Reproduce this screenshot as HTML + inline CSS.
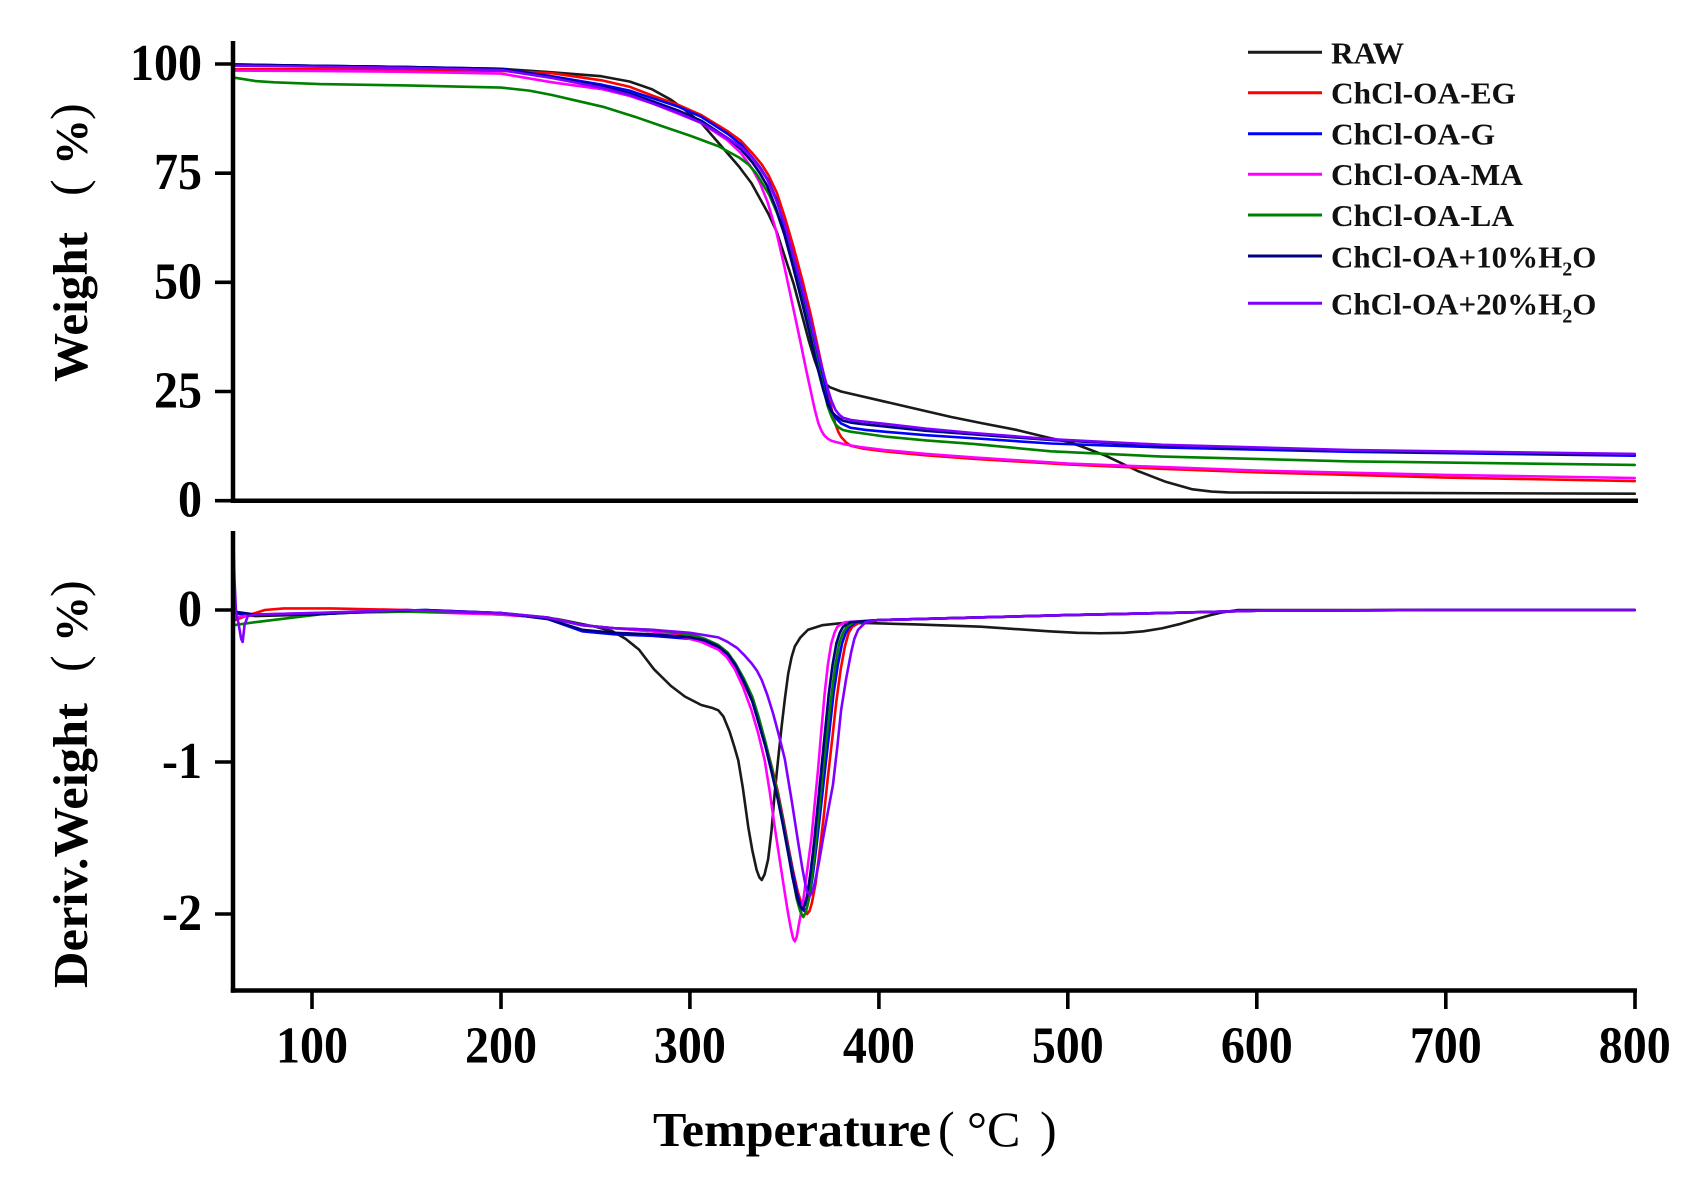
<!DOCTYPE html>
<html><head><meta charset="utf-8">
<style>html,body{margin:0;padding:0;background:#fff;}svg{display:block;}</style></head>
<body>
<svg xmlns="http://www.w3.org/2000/svg" width="1699" height="1184" viewBox="0 0 1699 1184" font-family="'Liberation Serif','Times New Roman',serif">
<rect width="1699" height="1184" fill="#fff"/>

<!-- upper TGA curves: x = 1.8896*T + 123.04 ; y = 500.7 - 4.367*w -->
<g transform="matrix(1.8896 0 0 -4.367 123.04 500.7)" fill="none" stroke-width="2.6" stroke-linejoin="round" stroke-linecap="round">
<polyline vector-effect="non-scaling-stroke" stroke="#1a1a1a" points="58.5,99.8 100,99.6 150,99.3 200,98.9 227,98.1 253,97.2 268,96 280,94.2 290,91.8 297,89.6 306,86.5 318,80.5 326,76.5 332.6,72.7 341.4,65.8 346,61.5 350.2,55.9 355,49.5 359,43 363,36.5 366,32.2 369,28.6 371.3,26.9 374,26 380,25 390,24 403,22.7 420,21 438,19.2 455,17.7 473,16.2 491,14.3 500,13.5 508,12.3 520,10.3 537,6.8 552,4.3 566,2.6 576,2.1 585,1.9 650,1.8 800,1.6"/>
<polyline vector-effect="non-scaling-stroke" stroke="#ff0000" points="58.5,98.8 100,98.8 150,98.7 200,98.4 227,97.9 254,96.2 268,94.8 280,92.8 294,90.6 306,88.3 320,84.6 327,82.4 333,79.6 338,77 341.5,74.6 346,70.5 350.5,64.5 355,57.8 359.5,50.5 364,42.5 368,34.5 371,28.5 373.5,24 375.5,20 377,17.5 378.5,15.8 380,14.6 382.5,13.4 385,12.6 392,11.9 403,11.3 425,10.4 450,9.6 500,8.3 550,7.3 600,6.5 700,5.3 800,4.5"/>
<polyline vector-effect="non-scaling-stroke" stroke="#0000ff" points="58.5,99.9 100,99.6 150,99.3 200,98.9 227,97.2 254,95.2 268,93.9 280,92.2 294,90.2 306,87.9 320,84 327,81.6 332.6,78.8 337,76.4 341.4,73.4 346,68.8 350,62.7 354.5,55.6 359,48.2 363.5,40.2 367.8,32.2 370.5,27.5 373,23 375,20.6 377,19 380,17.7 385,16.7 393,16.2 403,15.8 425,15 450,14.3 491,13.1 550,12.2 650,11.2 800,10.3"/>
<polyline vector-effect="non-scaling-stroke" stroke="#ff00ff" points="58.5,98.5 100,98.4 150,98.2 200,97.8 227,95.8 254,94.2 268,92.7 280,91 294,88.6 306,86.5 320,82.5 327,79.6 333,76 337,72.8 341,68.5 345.5,62 350,53.6 354.5,44.5 359,35.3 361.5,30 364,25 366,21 368,17.7 369.5,16.1 371,15 373,14.2 375,13.7 382,12.9 390,12.3 403,11.6 425,10.7 450,9.9 500,8.5 600,6.9 700,5.9 800,5.2"/>
<polyline vector-effect="non-scaling-stroke" stroke="#008000" points="58.5,96.9 70,96.1 80,95.8 104,95.4 150,95.1 200,94.6 215,93.9 227,92.9 240,91.6 254,90.2 271,87.9 285,85.8 300,83.6 315,81.2 326,78.6 331,77 335,75 339,72.2 342,70 346,66 350,61 354.5,54 359,46.5 363.5,38.7 367.8,31 370.5,26 373,21.5 375,19.2 377,17.5 379,16.7 381,16.2 385,15.8 390,15.5 403,14.7 425,13.8 450,13 491,11.3 550,10.1 650,9 800,8.2"/>
<polyline vector-effect="non-scaling-stroke" stroke="#000080" points="58.5,99.9 100,99.6 150,99.3 200,98.8 227,97 254,94.8 268,93.3 280,91.5 294,89.3 306,87 320,83 327,80.5 333,77.5 337,75 341,72 345.5,67 350,61 354.5,53.7 359,46 363.5,38 367.8,30 370.5,25.5 373,22 375,20.4 377,19.5 381,18.3 385,17.9 390,17.6 403,17 425,16 450,15.2 491,13.9 550,12.6 650,11.4 800,10.5"/>
<polyline vector-effect="non-scaling-stroke" stroke="#8000ff" points="58.5,99.6 100,99.4 150,99.1 200,98.6 227,96.8 254,94.5 268,92.9 280,91 294,88.8 306,86.5 320,83 327,81 333,78.5 337,76.2 341,73.5 345.5,69 350,63.5 354.5,56.5 359,49.5 363.5,41.8 367.8,34 370.5,29.5 373,25.5 375,22.8 377,20.8 379,19.7 381,19 385,18.5 390,18.2 403,17.6 425,16.5 450,15.5 491,14.1 550,12.8 650,11.6 800,10.7"/>
</g>

<!-- lower DTG curves: x = 1.8896*T + 123.04 ; y = 610 - 152*d -->
<g transform="matrix(1.8896 0 0 -152 123.04 610)" fill="none" stroke-width="2.6" stroke-linejoin="round" stroke-linecap="round">
<polyline vector-effect="non-scaling-stroke" stroke="#1a1a1a" points="58.5,-0.02 70,-0.04 100,-0.03 150,0 200,-0.02 230,-0.06 250,-0.11 259,-0.14 266,-0.19 273,-0.26 281,-0.39 290,-0.5 297.4,-0.57 306,-0.625 312,-0.645 315,-0.66 317.7,-0.7 321,-0.8 323.5,-0.9 325.6,-0.99 328,-1.17 330.9,-1.43 333,-1.58 335.3,-1.71 336.8,-1.76 338,-1.776 339.5,-1.74 341.4,-1.64 343.2,-1.45 344.9,-1.2 346.7,-0.98 348.5,-0.77 350.3,-0.58 352,-0.42 353.8,-0.31 355.5,-0.24 358.5,-0.18 362.5,-0.13 370,-0.1 380,-0.087 392,-0.085 420,-0.095 454,-0.11 490,-0.14 505,-0.15 517,-0.153 530,-0.15 540,-0.14 550,-0.12 560,-0.09 568,-0.06 575,-0.035 582,-0.015 590,0 800,0"/>
<polyline vector-effect="non-scaling-stroke" stroke="#ff0000" points="58.5,-0.07 65,-0.04 75,0 85,0.01 110,0.01 150,0 200,-0.03 225,-0.05 243,-0.1 260,-0.12 280,-0.14 300,-0.17 308,-0.2 315,-0.25 320,-0.31 324,-0.38 328.5,-0.48 333,-0.6 336.5,-0.73 340,-0.88 343.3,-1.03 346.6,-1.2 349.3,-1.37 352,-1.55 354.5,-1.71 357,-1.85 359.5,-1.95 362,-2.0 363.3,-1.98 364.5,-1.93 366.5,-1.8 368.5,-1.6 370.8,-1.36 373,-1.1 375.3,-0.85 377.5,-0.6 379.8,-0.39 382,-0.24 384,-0.15 386,-0.11 390,-0.08 400,-0.066 450,-0.05 500,-0.033 550,-0.02 600,-0.005 700,0 800,0"/>
<polyline vector-effect="non-scaling-stroke" stroke="#0000ff" points="58.5,-0.02 70,-0.03 100,-0.03 130,-0.01 160,0 200,-0.02 225,-0.06 243,-0.14 260,-0.16 280,-0.17 300,-0.19 308,-0.21 315,-0.25 320,-0.3 324,-0.37 328.5,-0.47 333,-0.6 336.5,-0.74 340,-0.89 343.3,-1.05 346.6,-1.22 349.3,-1.39 352,-1.57 354.5,-1.73 357,-1.88 359,-1.96 360.5,-1.98 361.8,-1.96 363,-1.9 365,-1.75 367,-1.55 369.3,-1.3 371.5,-1.05 373.8,-0.8 376,-0.55 378.3,-0.36 380.5,-0.22 382.5,-0.15 384.5,-0.11 388,-0.08 400,-0.066 450,-0.05 500,-0.033 550,-0.02 600,-0.005 700,0 800,0"/>
<polyline vector-effect="non-scaling-stroke" stroke="#ff00ff" points="58.5,-0.05 70,-0.03 100,-0.02 150,-0.01 200,-0.03 225,-0.05 243,-0.1 260,-0.12 280,-0.14 297,-0.18 306,-0.21 315,-0.26 319.5,-0.31 323.8,-0.39 328.2,-0.51 332.6,-0.66 336.1,-0.81 339.6,-0.99 342.3,-1.2 344.9,-1.43 347.6,-1.65 350.2,-1.86 352,-2.0 353.5,-2.1 354.6,-2.16 355.5,-2.18 356.5,-2.15 357.5,-2.08 358.7,-2.0 359.9,-1.92 362,-1.72 364.3,-1.5 366,-1.28 367.8,-1.05 369.5,-0.8 371.3,-0.55 373,-0.36 374.8,-0.22 376.5,-0.15 378,-0.11 382,-0.08 400,-0.066 450,-0.05 500,-0.033 550,-0.02 600,-0.005 700,0 800,0"/>
<polyline vector-effect="non-scaling-stroke" stroke="#008000" points="58.5,-0.1 70,-0.08 90,-0.05 110,-0.02 150,-0.01 200,-0.02 225,-0.05 243,-0.1 260,-0.12 280,-0.13 300,-0.16 308,-0.19 315,-0.23 320,-0.28 324,-0.35 328.5,-0.45 333,-0.57 336.5,-0.71 340,-0.87 343.3,-1.04 346.6,-1.22 349.3,-1.4 352,-1.58 354.3,-1.75 356.5,-1.9 358.3,-1.98 360,-2.02 361.3,-1.99 362.5,-1.93 364.3,-1.78 366,-1.6 368.3,-1.32 370.5,-1.05 372.8,-0.79 375,-0.55 377,-0.36 379,-0.22 381,-0.15 383,-0.11 387,-0.08 400,-0.066 450,-0.05 500,-0.033 550,-0.02 600,-0.005 700,0 800,0"/>
<polyline vector-effect="non-scaling-stroke" stroke="#000080" points="58.5,-0.01 70,-0.03 100,-0.03 130,-0.01 160,0 200,-0.02 225,-0.06 243,-0.13 260,-0.15 280,-0.16 300,-0.18 308,-0.2 315,-0.24 320,-0.29 324,-0.36 328.5,-0.47 333,-0.6 336.5,-0.75 340,-0.9 343.3,-1.07 346.6,-1.25 349.3,-1.42 352,-1.6 354.3,-1.76 356.5,-1.88 358,-1.94 359.5,-1.97 360.8,-1.94 362,-1.88 363.8,-1.73 365.5,-1.55 367.5,-1.3 369.5,-1.05 371.5,-0.8 373.5,-0.55 375.5,-0.36 377.5,-0.22 379.3,-0.15 381,-0.11 385,-0.08 400,-0.066 450,-0.05 500,-0.033 550,-0.02 600,-0.005 700,0 800,0"/>
<polyline vector-effect="non-scaling-stroke" stroke="#8000ff" points="58.5,0.42 59,0.2 59.8,-0.02 61,-0.08 62.5,-0.19 63.3,-0.21 64.3,-0.1 66,-0.04 70,-0.03 100,-0.02 150,0 200,-0.02 225,-0.05 243,-0.1 260,-0.12 280,-0.13 300,-0.15 315,-0.18 320,-0.21 325,-0.25 329,-0.3 332.6,-0.35 335.5,-0.4 338,-0.46 341,-0.56 344,-0.68 347,-0.82 350.2,-0.98 353.8,-1.25 357.3,-1.53 359.5,-1.7 361.6,-1.84 363.5,-1.88 365,-1.85 366,-1.8 368.3,-1.66 370.5,-1.5 373,-1.33 375.7,-1.15 378,-0.9 380,-0.66 382.7,-0.45 385.3,-0.28 387,-0.19 389,-0.13 393,-0.08 400,-0.066 450,-0.05 500,-0.033 550,-0.02 600,-0.005 700,0 800,0"/>
</g>

<g stroke="#000" fill="none">
  <!-- upper axes -->
  <line x1="233" y1="41" x2="233" y2="502.9" stroke-width="4.5"/>
  <line x1="230.8" y1="500.7" x2="1638" y2="500.7" stroke-width="4.5"/>
  <g stroke-width="3.6">
    <line x1="215" y1="64" x2="233" y2="64"/>
    <line x1="215" y1="173.2" x2="233" y2="173.2"/>
    <line x1="215" y1="282.35" x2="233" y2="282.35"/>
    <line x1="215" y1="391.5" x2="233" y2="391.5"/>
    <line x1="215" y1="500.7" x2="233" y2="500.7"/>
  </g>
  <!-- lower axes -->
  <line x1="233" y1="531" x2="233" y2="992.7" stroke-width="4.5"/>
  <line x1="230.8" y1="990.5" x2="1637" y2="990.5" stroke-width="4.5"/>
  <g stroke-width="3.6">
    <line x1="215" y1="610" x2="233" y2="610"/>
    <line x1="215" y1="762" x2="233" y2="762"/>
    <line x1="215" y1="914" x2="233" y2="914"/>
    <line x1="312" y1="990.5" x2="312" y2="1009"/>
    <line x1="501" y1="990.5" x2="501" y2="1009"/>
    <line x1="689.9" y1="990.5" x2="689.9" y2="1009"/>
    <line x1="878.9" y1="990.5" x2="878.9" y2="1009"/>
    <line x1="1067.8" y1="990.5" x2="1067.8" y2="1009"/>
    <line x1="1256.8" y1="990.5" x2="1256.8" y2="1009"/>
    <line x1="1445.8" y1="990.5" x2="1445.8" y2="1009"/>
    <line x1="1635" y1="988.5" x2="1635" y2="1009"/>
  </g>
</g>

<!-- tick labels -->
<g font-size="48" font-weight="bold" fill="#000" text-anchor="end">
  <text transform="translate(202,80) scale(1,1.08)">100</text>
  <text transform="translate(202,189.2) scale(1,1.08)">75</text>
  <text transform="translate(202,298.4) scale(1,1.08)">50</text>
  <text transform="translate(202,407.5) scale(1,1.08)">25</text>
  <text transform="translate(202,516.7) scale(1,1.08)">0</text>
  <text transform="translate(202,626) scale(1,1.08)">0</text>
  <text transform="translate(202,778) scale(1,1.08)">-1</text>
  <text transform="translate(202,930) scale(1,1.08)">-2</text>
</g>
<g font-size="48" font-weight="bold" fill="#000" text-anchor="middle">
  <text transform="translate(312,1062.5) scale(1,1.08)">100</text>
  <text transform="translate(501,1062.5) scale(1,1.08)">200</text>
  <text transform="translate(689.9,1062.5) scale(1,1.08)">300</text>
  <text transform="translate(878.9,1062.5) scale(1,1.08)">400</text>
  <text transform="translate(1067.8,1062.5) scale(1,1.08)">500</text>
  <text transform="translate(1256.8,1062.5) scale(1,1.08)">600</text>
  <text transform="translate(1445.8,1062.5) scale(1,1.08)">700</text>
  <text transform="translate(1634.7,1062.5) scale(1,1.08)">800</text>
</g>

<!-- axis titles -->
<g fill="#000">
  <text x="653" y="1146" font-size="49" font-weight="bold" textLength="278" lengthAdjust="spacingAndGlyphs">Temperature</text>
  <text x="938" y="1146" font-size="50" font-weight="normal">(</text>
  <text x="967" y="1146" font-size="50" font-weight="normal">°C</text>
  <text x="1040" y="1146" font-size="50" font-weight="normal">)</text>

  <g transform="translate(87,382) rotate(-90)">
    <text x="0" y="0" font-size="49" font-weight="bold" textLength="150" lengthAdjust="spacingAndGlyphs">Weight</text>
    <text x="186" y="-2" font-size="50" font-weight="normal">(</text>
    <text x="217" y="0" font-size="46" font-weight="bold">%</text>
    <text x="262" y="-2" font-size="50" font-weight="normal">)</text>
  </g>
  <g transform="translate(87,988) rotate(-90)">
    <text x="0" y="0" font-size="49" font-weight="bold" textLength="285" lengthAdjust="spacingAndGlyphs">Deriv.Weight</text>
    <text x="316" y="-2" font-size="50" font-weight="normal">(</text>
    <text x="346" y="0" font-size="46" font-weight="bold">%</text>
    <text x="391" y="-2" font-size="50" font-weight="normal">)</text>
  </g>
</g>

<!-- legend -->
<g stroke-width="3">
  <line x1="1248" y1="52.3" x2="1322" y2="52.3" stroke="#1a1a1a"/>
  <line x1="1248" y1="92.7" x2="1322" y2="92.7" stroke="#ff0000"/>
  <line x1="1248" y1="133.7" x2="1322" y2="133.7" stroke="#0000ff"/>
  <line x1="1248" y1="174.3" x2="1322" y2="174.3" stroke="#ff00ff"/>
  <line x1="1248" y1="215" x2="1322" y2="215" stroke="#008000"/>
  <line x1="1248" y1="256" x2="1322" y2="256" stroke="#000080"/>
  <line x1="1248" y1="303.3" x2="1322" y2="303.3" stroke="#8000ff"/>
</g>
<g font-size="31" font-weight="bold" fill="#111">
  <text x="1331" y="63.3" textLength="73" lengthAdjust="spacingAndGlyphs">RAW</text>
  <text x="1331" y="103.5" textLength="185" lengthAdjust="spacingAndGlyphs">ChCl-OA-EG</text>
  <text x="1331" y="144.5" textLength="164" lengthAdjust="spacingAndGlyphs">ChCl-OA-G</text>
  <text x="1331" y="185.2" textLength="192" lengthAdjust="spacingAndGlyphs">ChCl-OA-MA</text>
  <text x="1331" y="226" textLength="183" lengthAdjust="spacingAndGlyphs">ChCl-OA-LA</text>
  <text x="1331" y="267.3">ChCl-OA+10%H<tspan font-size="20" dy="8">2</tspan><tspan dy="-8">O</tspan></text>
  <text x="1331" y="314.5">ChCl-OA+20%H<tspan font-size="20" dy="8">2</tspan><tspan dy="-8">O</tspan></text>
</g>
</svg>
</body></html>
